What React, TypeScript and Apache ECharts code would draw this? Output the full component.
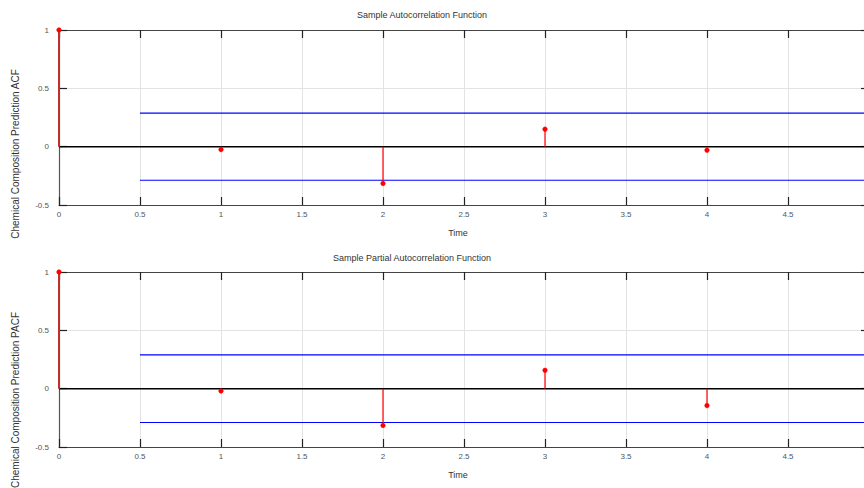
import React, { useEffect, useRef } from "react";
import * as echarts from "echarts";

const lags = [0, 1, 2, 3, 4];
const acfValues = [1, -0.025, -0.315, 0.15, -0.03];
const pacfValues = [1, -0.02, -0.315, 0.157, -0.145];
const acfBound = 0.288;
const pacfBound = 0.29;
const boundRange = [0.5, 5];
const xRange = [0, 5];
const yRange = [-0.5, 1];
const titles = ["Sample Autocorrelation Function", "Sample Partial Autocorrelation Function"];
const yNames = ["Chemical Composition Prediction ACF", "Chemical Composition Prediction PACF"];
const xName = "Time";

const FONT = "Liberation Sans, Arial, sans-serif";

export default function App() {
  const ref = useRef<HTMLDivElement>(null);
  useEffect(() => {
    if (!ref.current) return;
    const chart = echarts.init(ref.current, undefined, { renderer: "svg" });
    const grids = [
      { left: 59, top: 30, height: 175, width: 810, outerBoundsMode: "none", containLabel: false },
      { left: 59, top: 272, height: 175, width: 810, outerBoundsMode: "none", containLabel: false },
    ];
    const xAxes: any[] = [];
    const yAxes: any[] = [];
    [0, 1].forEach((g) => {
      const base = {
        gridIndex: g,
        type: "value",
        min: xRange[0],
        max: xRange[1],
        interval: 0.5,
      };
      xAxes.push({
        ...base,
        position: "bottom",
        axisLine: { show: true, onZero: false, lineStyle: { color: "#444", width: 1.2 } },
        axisTick: { show: true, inside: true, length: 8, lineStyle: { color: "#222", width: 1.2 } },
        axisLabel: {
          show: true,
          margin: 5,
          fontSize: 8,
          color: "#555",
          fontFamily: FONT,
          showMaxLabel: false,
        },
        splitLine: { show: true, lineStyle: { color: "#e3e3e3", width: 1 } },
      });
      xAxes.push({
        ...base,
        position: "top",
        axisLine: { show: true, onZero: false, lineStyle: { color: "#444", width: 1.2 } },
        axisTick: { show: true, inside: true, length: 8, lineStyle: { color: "#222", width: 1.2 } },
        axisLabel: { show: false },
        splitLine: { show: false },
      });
      const ybase = {
        gridIndex: g,
        type: "value",
        min: yRange[0],
        max: yRange[1],
        interval: 0.5,
      };
      yAxes.push({
        ...ybase,
        position: "left",
        axisLine: { show: true, onZero: false, lineStyle: { color: "#555", width: 1.2 } },
        axisTick: { show: true, inside: true, length: 8, lineStyle: { color: "#222", width: 1.2 } },
        axisLabel: {
          show: true,
          margin: 10,
          fontSize: 8,
          color: "#555",
          fontFamily: FONT,
          padding: [0, 0, 6, 0],
        },
        splitLine: { show: true, lineStyle: { color: "#e3e3e3", width: 1 } },
      });
      yAxes.push({
        ...ybase,
        position: "right",
        axisLine: { show: true, onZero: false, lineStyle: { color: "#555", width: 1.2 } },
        axisTick: { show: true, inside: true, length: 8, lineStyle: { color: "#222", width: 1.2 } },
        axisLabel: { show: false },
        splitLine: { show: false },
      });
    });

    const series: any[] = [];
    const sets = [
      { values: acfValues, bound: acfBound },
      { values: pacfValues, bound: pacfBound },
    ];
    sets.forEach((s, g) => {
      const xi = g * 2;
      const yi = g * 2;
      const hline = (y: number, x0: number, x1: number, color: string, width: number, z: number) => ({
        type: "line",
        xAxisIndex: xi,
        yAxisIndex: yi,
        data: [
          [x0, y],
          [x1, y],
        ],
        symbol: "none",
        lineStyle: { color, width },
        silent: true,
        z,
      });
      series.push(hline(s.bound, boundRange[0], boundRange[1], "#0000ff", 1.2, 3));
      series.push(hline(-s.bound, boundRange[0], boundRange[1], "#0000ff", 1.2, 3));
      series.push(hline(0, xRange[0], xRange[1], "#000", 1.5, 4));
      series.push({
        type: "custom",
        xAxisIndex: xi,
        yAxisIndex: yi,
        data: lags.map((l, i) => [l, s.values[i]]),
        z: 5,
        renderItem: (params: any, api: any) => {
          const x = api.value(0);
          const y = api.value(1);
          const p0 = api.coord([x, 0]);
          const p1 = api.coord([x, y]);
          return {
            type: "group",
            children: [
              {
                type: "line",
                shape: { x1: p0[0], y1: p0[1], x2: p1[0], y2: p1[1] },
                style: { stroke: x === 0 ? "#c0302a" : "#ff0000", lineWidth: x === 0 ? 2 : 1.2 },
              },
              {
                type: "circle",
                shape: { cx: p1[0], cy: p1[1], r: 2.3 },
                style: { fill: "#ff0000", stroke: "#ff0000", lineWidth: 0.5 },
              },
            ],
          };
        },
      });
    });

    const txt = (text: string, x: number, y: number, extra: any = {}) => ({
      type: "text",
      x,
      y,
      style: {
        text,
        fontSize: 9,
        fontFamily: FONT,
        fill: "#333",
        textAlign: "center",
        textVerticalAlign: "middle",
        ...extra,
      },
      z: 10,
    });

    const graphic = [
      txt(titles[0], 422, 15),
      txt(titles[1], 412, 258),
      txt(xName, 458, 233),
      txt(xName, 458, 475),
      { ...txt(yNames[0], 0, 0, { fontSize: 10 }), x: 15, y: 154, rotation: Math.PI / 2 },
      { ...txt(yNames[1], 0, 0, { fontSize: 10 }), x: 15, y: 400, rotation: Math.PI / 2 },
    ];

    chart.setOption({
      animation: false,
      backgroundColor: "#fff",
      grid: grids,
      xAxis: xAxes,
      yAxis: yAxes,
      series,
      graphic,
    });
    return () => chart.dispose();
  }, []);
  return <div ref={ref} style={{ width: 864, height: 488, position: "absolute", left: 0, top: 0 }} />;
}
